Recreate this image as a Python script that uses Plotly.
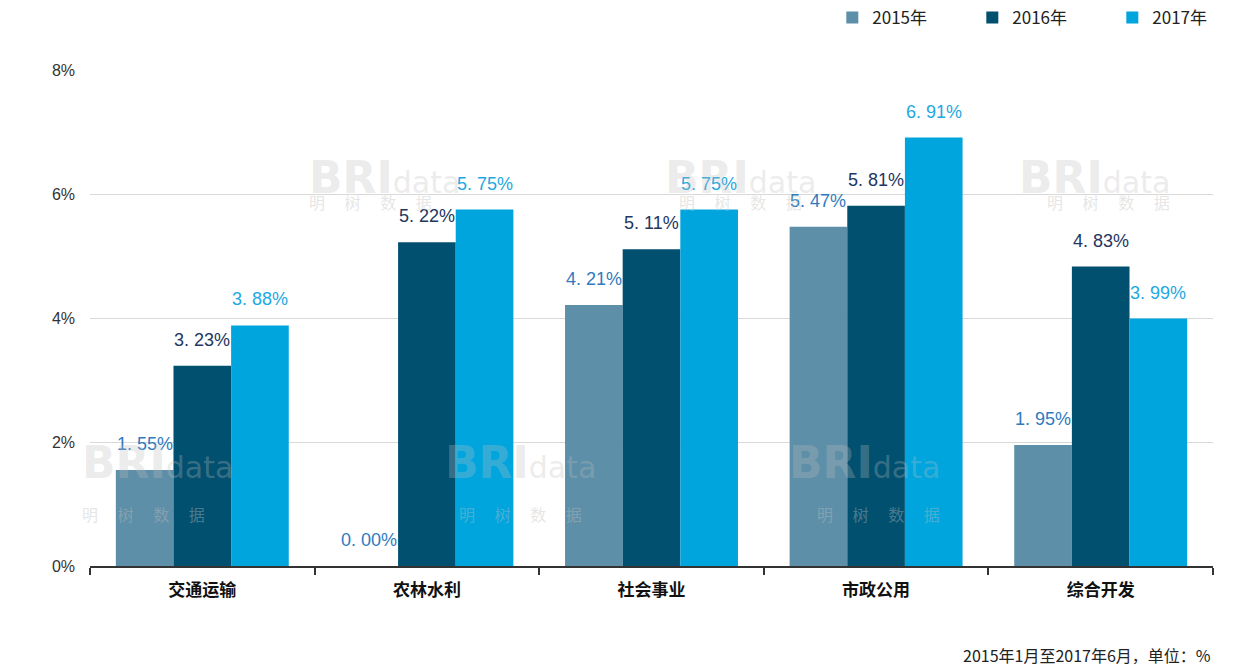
import plotly.graph_objects as go

# categories and growth rates (%)
categories = ["交通运输", "农林水利", "社会事业", "市政公用", "综合开发"]
years = ["2015年", "2016年", "2017年"]
rate_2015 = [1.55, 0.00, 4.21, 5.47, 1.95]
rate_2016 = [3.23, 5.22, 5.11, 5.81, 4.83]
rate_2017 = [3.88, 5.75, 5.75, 6.91, 3.99]
y_ticks = [0, 2, 4, 6, 8]
note = "2015年1月至2017年6月，单位：%"

W, H = 1256, 666
L, R, T, B = 90, 43, 70, 100
pw, ph = W - L - R, H - T - B

series = [rate_2015, rate_2016, rate_2017]
bar_colors = ["#5d8fa8", "#02506f", "#00a5de"]
label_colors = ["#2f7bbd", "#23365f", "#1ea8e2"]
num_font = "Liberation Sans Narrow, Arial Narrow, Liberation Sans, sans-serif"
cjk_font = "Noto Sans CJK SC, Noto Sans, sans-serif"
bargap = 0.23


def px_to_paper(px, py):
    return (px - L) / pw, (H - B - py) / ph


fig = go.Figure()
for name, vals, col in zip(years, series, bar_colors):
    fig.add_trace(go.Bar(x=categories, y=vals, name=name, marker_color=col,
                         marker_line_width=0))

# data labels, centred over each bar of the group
bw = (1 - bargap) / len(series)
annotations = []
for j, (vals, col) in enumerate(zip(series, label_colors)):
    for i, v in enumerate(vals):
        annotations.append(dict(
            x=i + (j - 1) * bw, y=v, xref="x", yref="y",
            text=f"{v:.2f}%".replace(".", ". "), showarrow=False,
            yanchor="bottom", yshift=14,
            font=dict(family=num_font, size=18, color=col)))

# faint watermarks (logo text only)
for wx, wy in [(307, 150), (740, 150), (1172, 150), (80, 490), (520, 490), (942, 490)]:
    ax, ay = px_to_paper(wx, wy)
    annotations.append(dict(x=ax, y=ay, xref="paper", yref="paper",
                            text="<b>BRI</b><span style='font-size:30px'>data</span>",
                            showarrow=False, font=dict(family="DejaVu Sans", size=44,
                                                       color="rgba(190,190,190,0.3)")))
    ax, ay = px_to_paper(wx, wy + 38)
    annotations.append(dict(x=ax, y=ay, xref="paper", yref="paper",
                            text="明　 树　 数　 据", showarrow=False,
                            font=dict(family=cjk_font, size=16, color="rgba(190,190,190,0.4)")))

nx, ny = px_to_paper(W - R, 655)
annotations.append(dict(x=nx, y=ny, xref="paper", yref="paper", xanchor="right",
                        yanchor="middle", text=note, showarrow=False,
                        font=dict(family=cjk_font, size=16, color="#222222")))

fig.update_layout(
    width=W, height=H,
    margin=dict(l=L, r=R, t=T, b=B, autoexpand=False),
    plot_bgcolor="white", paper_bgcolor="white",
    barmode="group", bargap=bargap, bargroupgap=0,
    legend=dict(orientation="h", x=1.035, xanchor="right", yref="container",
                y=1 - 18 / H, yanchor="middle", entrywidth=95,
                font=dict(family=cjk_font, size=17, color="#222222"),
                traceorder="normal"),
    xaxis=dict(showline=True, linecolor="#333333", linewidth=2, ticks="outside",
               tickson="boundaries", ticklen=7, tickwidth=2, tickcolor="#333333",
               tickfont=dict(family=cjk_font, size=17, color="#111111"),
               ticklabelstandoff=8),
    yaxis=dict(range=[0, 8], tickvals=y_ticks, ticktext=[f"{t}%" for t in y_ticks],
               showgrid=True, gridcolor="#d9d9d9", gridwidth=1, zeroline=False,
               showline=False, tickfont=dict(family=num_font, size=16, color="#333333"),
               ticklabelstandoff=14),
    annotations=annotations,
)
fig.update_xaxes(tickvals=categories, ticktext=[f"<b>{c}</b>" for c in categories])

# drop the default page margin so the figure sits at the window's corner
fig.write_html("out.html", config={"displayModeBar": False},
               post_script="document.body.style.margin='0';")
